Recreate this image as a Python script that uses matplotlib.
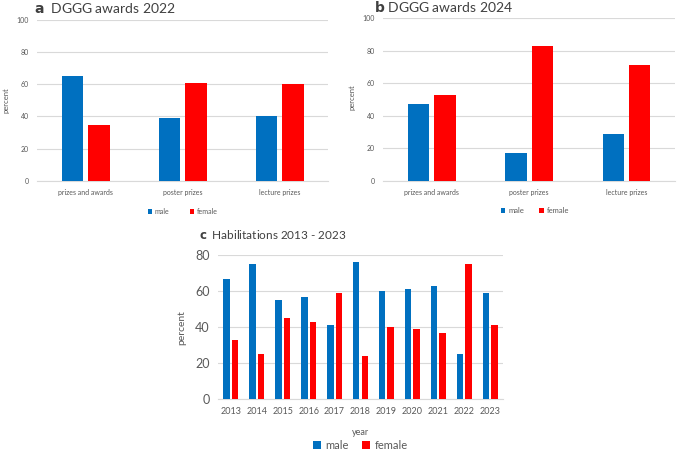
import matplotlib.pyplot as plt
import numpy as np

plt.rcParams['font.family'] = ['Lato', 'DejaVu Sans']

# data
award_cats = ['prizes and awards', 'poster prizes', 'lecture prizes']
male_2022 = [65, 39, 40]
female_2022 = [35, 61, 60]
male_2024 = [47, 17, 29]
female_2024 = [53, 83, 71]

years = ['2013', '2014', '2015', '2016', '2017', '2018', '2019', '2020', '2021', '2022', '2023']
male_hab = [67, 75, 55, 57, 41, 76, 60, 61, 63, 25, 59]
female_hab = [33, 25, 45, 43, 59, 24, 40, 39, 37, 75, 41]

BLUE = '#0070C0'
RED = '#FF0000'
GRID = '#D9D9D9'
TXT = '#595959'


def draw_bars(ax, cats, male, female, width, gap, ylim, step):
    x = np.arange(len(cats))
    off = (width + gap) / 2
    ax.bar(x - off, male, width, color=BLUE, label='male', zorder=3)
    ax.bar(x + off, female, width, color=RED, label='female', zorder=3)
    ax.set_xlim(-0.5, len(cats) - 0.5)
    ax.set_ylim(0, ylim)
    ax.set_yticks(np.arange(0, ylim + 1, step))
    ax.set_xticks(x)
    ax.set_xticklabels(cats)
    ax.yaxis.grid(True, color=GRID, linewidth=0.8, zorder=0)
    for s in ['top', 'right', 'left']:
        ax.spines[s].set_visible(False)
    ax.spines['bottom'].set_color(GRID)
    ax.tick_params(length=0, colors=TXT)
    return x


fig = plt.figure(figsize=(6.77, 4.5), dpi=100)

# panel a
ax1 = fig.add_axes([0.055, 0.598, 0.43, 0.358])
draw_bars(ax1, award_cats, male_2022, female_2022, 0.22, 0.05, 100, 20)
ax1.tick_params(labelsize=5, pad=6)
fig.text(6 / 677, 1 - 100 / 450, 'percent', rotation=90, fontsize=5.5, color=TXT,
         ha='center', va='center')
ax1.text(-0.01, 1.075, r'$\bf{a}$  DGGG awards 2022', transform=ax1.transAxes,
         fontsize=10, color='#404040', va='center', ha='left')
ax1.legend(loc='upper center', bbox_to_anchor=(0.5, -0.13), ncol=2, frameon=False,
           fontsize=5, handlelength=0.6, handleheight=0.6, columnspacing=3,
           handletextpad=0.4, labelcolor=TXT)

# panel b
ax2 = fig.add_axes([0.566, 0.598, 0.431, 0.362])
draw_bars(ax2, award_cats, male_2024, female_2024, 0.22, 0.05, 100, 20)
ax2.tick_params(labelsize=5, pad=6)
fig.text(352 / 677, 1 - 97 / 450, 'percent', rotation=90, fontsize=5.5, color=TXT,
         ha='center', va='center')
ax2.text(-0.03, 1.025, r'$\bf{b}$ DGGG awards 2024', transform=ax2.transAxes,
         fontsize=10, color='#404040', va='bottom', ha='left')
ax2.legend(loc='upper center', bbox_to_anchor=(0.52, -0.12), ncol=2, frameon=False,
           fontsize=5.5, handlelength=0.6, handleheight=0.6, columnspacing=2.0,
           handletextpad=0.4, labelcolor=TXT)

# panel c
ax3 = fig.add_axes([0.322, 0.113, 0.421, 0.32])
draw_bars(ax3, years, male_hab, female_hab, 0.25, 0.08, 80, 20)
ax3.tick_params(axis='y', labelsize=9, pad=6)
ax3.tick_params(axis='x', labelsize=6.5, pad=6)
ax3.set_ylabel('percent', fontsize=7.5, color=TXT, labelpad=6)
ax3.set_xlabel('year', fontsize=6.5, color=TXT, labelpad=8)
ax3.text(-0.065, 1.1, r'$\bf{c}$  Habilitations 2013 - 2023', transform=ax3.transAxes,
         fontsize=8.5, color='#404040', va='bottom', ha='left')
ax3.legend(loc='upper center', bbox_to_anchor=(0.5, -0.235), ncol=2, frameon=False,
           fontsize=8, handlelength=0.7, handleheight=0.7, columnspacing=1.2,
           handletextpad=0.4, labelcolor=TXT, borderpad=0.1)

fig.savefig('out.png', dpi=100)
